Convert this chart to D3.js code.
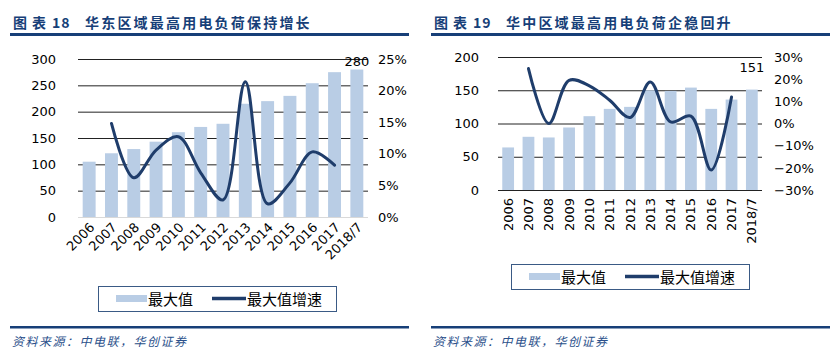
<!DOCTYPE html>
<html>
<head>
<meta charset="UTF-8">
<title>最高用电负荷</title>
<script src="https://d3js.org/d3.v7.min.js"></script>
<style>
    body { margin: 0; background: #fff; }
    svg { display: block; }
    .tick-label { font-family: "DejaVu Sans", Verdana, sans-serif; font-size: 13px; fill: #000; }
    .cjk { font-family: "Noto Sans CJK SC", sans-serif; }
</style>
</head>
<body>
<svg width="835" height="359"></svg>
<script>
// 年份
var years = ['2006', '2007', '2008', '2009', '2010', '2011', '2012', '2013', '2014', '2015', '2016', '2017', '2018/7'];

// 华东：最大值 / 最大值增速(%)
var eastMax = [105, 121, 129, 143, 161, 171, 177, 215, 220, 230, 254, 275, 280];
var eastGrowth = [null, 14.8, 6.2, 10.6, 12.7, 7.0, 2.7, 21.4, 2.1, 5.4, 10.3, 8.2, null];
var eastLeftTicks = [0, 50, 100, 150, 200, 250, 300];
var eastRightTicks = [0, 5, 10, 15, 20, 25];

// 华中：最大值 / 最大值增速(%)
var centralMax = [64, 80, 79, 94, 111, 122, 125, 150, 149, 154, 122, 136, 151];
var centralGrowth = [null, 24.8, 0.0, 19.5, 17.0, 10.5, 2.7, 18.7, 0.7, 3.3, -21.0, 12.0, null];
var centralLeftTicks = [0, 50, 100, 150, 200];
var centralRightTicks = [-30, -20, -10, 0, 10, 20, 30];

var barColor = '#b9cde5';
var lineColor = '#1f3d6b';
var navy = '#173f78';

var svg = d3.select('svg');

function drawPanel(opt) {
    var g = svg.append('g');
    var x0 = opt.x0;

    // 标题
    var title = g.append('g')
        .attr('class', 'cjk')
        .attr('font-size', 14).attr('font-weight', 'bold')
        .attr('fill', navy);
    title.append('text')
        .attr('x', x0 + 3).attr('y', 28)
        .attr('letter-spacing', 5)
        .text('图表');
    title.append('text')
        .attr('x', x0 + 42).attr('y', 28)
        .attr('letter-spacing', 1)
        .text(opt.num);
    title.append('text')
        .attr('x', x0 + 75).attr('y', 28)
        .attr('letter-spacing', 2.2)
        .text(opt.title);
    g.append('rect')
        .attr('x', x0).attr('y', 33)
        .attr('width', 399).attr('height', 3)
        .attr('fill', navy);
    // 底部
    g.append('rect')
        .attr('x', x0).attr('y', 326)
        .attr('width', 399).attr('height', 2.5)
        .attr('fill', navy);
    g.append('text')
        .attr('class', 'cjk')
        .attr('x', x0 + 2).attr('y', 346)
        .attr('font-size', 12).attr('font-style', 'italic')
        .attr('letter-spacing', 1.5)
        .attr('fill', '#2a4f8a')
        .text('资料来源：中电联，华创证券');

    var xScale = d3.scaleBand()
        .domain(years)
        .range([opt.left, opt.right])
        .paddingInner(0.42).paddingOuter(0.21);
    var yScale = d3.scaleLinear()
        .domain(d3.extent(opt.leftTicks))
        .range([opt.bottom, opt.top]);
    var y2Scale = d3.scaleLinear()
        .domain(d3.extent(opt.rightTicks))
        .range([opt.bottom, opt.top]);

    // 网格线
    g.selectAll('.grid').data(opt.leftTicks).enter().append('line')
        .attr('x1', opt.left).attr('x2', opt.right)
        .attr('y1', function(d) { return yScale(d) + 0.5; })
        .attr('y2', function(d) { return yScale(d) + 0.5; })
        .attr('stroke', function(d) { return d === 0 ? opt.baseColor : '#222'; })
        .attr('stroke-width', 1);

    // 左轴
    var yAxis = d3.axisLeft(yScale).tickValues(opt.leftTicks).tickSize(0).tickPadding(0);
    var ya = g.append('g')
        .attr('transform', 'translate(' + opt.leftLabelX + ',0)')
        .call(yAxis);
    ya.select('.domain').remove();
    ya.selectAll('text').attr('class', 'tick-label').attr('font-size', null).attr('font-family', null);

    // 右轴
    var y2Axis = d3.axisRight(y2Scale).tickValues(opt.rightTicks).tickSize(0).tickPadding(0)
        .tickFormat(function(d) { return (d < 0 ? '\u2212' : '') + Math.abs(d) + '%'; });
    var y2a = g.append('g')
        .attr('transform', 'translate(' + opt.rightLabelX + ',0)')
        .call(y2Axis);
    y2a.select('.domain').remove();
    y2a.selectAll('text').attr('class', 'tick-label').attr('font-size', null).attr('font-family', null);

    // 柱
    g.selectAll('.bar').data(opt.values).enter().append('rect')
        .attr('x', function(d, i) { return xScale(years[i]); })
        .attr('y', function(d) { return yScale(d); })
        .attr('width', xScale.bandwidth())
        .attr('height', function(d) { return yScale(0) - yScale(d); })
        .attr('fill', barColor);

    // 最后一个值标注
    var last = opt.values.length - 1;
    g.append('text')
        .attr('class', 'tick-label')
        .attr('x', xScale(years[last]) + xScale.bandwidth() / 2)
        .attr('y', yScale(opt.values[last]) - 4 + opt.labelDy)
        .attr('text-anchor', 'middle')
        .text(opt.values[last]);

    // 增速曲线
    var pts = [];
    opt.growth.forEach(function(d, i) {
        if (d !== null) pts.push([xScale(years[i]) + xScale.bandwidth() / 2, y2Scale(d)]);
    });
    g.append('path')
        .attr('d', d3.line().curve(d3.curveCatmullRom.alpha(0.5))(pts))
        .attr('fill', 'none')
        .attr('stroke', lineColor)
        .attr('stroke-width', 3)
        .attr('stroke-linecap', 'round');

    // x轴标签
    years.forEach(function(y) {
        var cx = xScale(y) + xScale.bandwidth() / 2;
        g.append('text')
            .attr('class', 'tick-label')
            .attr('text-anchor', 'end')
            .attr('transform', 'translate(' + (cx + opt.xLabelDx) + ',' + (opt.bottom + opt.xLabelDy) + ') rotate(' + opt.rotate + ')')
            .attr('dy', '0.35em')
            .text(y);
    });

    // 图例
    var lg = g.append('g').attr('transform', 'translate(' + opt.legendX + ',' + opt.legendY + ')');
    lg.append('rect')
        .attr('x', 0.5).attr('y', 0.5)
        .attr('width', 238).attr('height', 25)
        .attr('fill', '#fff').attr('stroke', '#3a5a85').attr('stroke-width', 1);
    lg.append('rect')
        .attr('x', 18).attr('y', 9).attr('width', 31).attr('height', 7)
        .attr('fill', barColor);
    lg.append('text').attr('class', 'cjk')
        .attr('x', 50).attr('y', 18.5).attr('font-size', 15).attr('fill', '#000')
        .text('最大值');
    lg.append('line')
        .attr('x1', 114).attr('x2', 148).attr('y1', 12.5).attr('y2', 12.5)
        .attr('stroke', lineColor).attr('stroke-width', 3.5);
    lg.append('text').attr('class', 'cjk')
        .attr('x', 149).attr('y', 18.5).attr('font-size', 15).attr('fill', '#000')
        .text('最大值增速');
}

drawPanel({
    x0: 10,
    num: '18',
    title: '华东区域最高用电负荷保持增长',
    values: eastMax, growth: eastGrowth,
    leftTicks: eastLeftTicks, rightTicks: eastRightTicks,
    left: 78, right: 368, top: 59, bottom: 217,
    leftLabelX: 56, rightLabelX: 378,
    baseColor: '#d9d9d9',
    labelDy: 0,
    rotate: -45, xLabelDx: 3, xLabelDy: 8,
    legendX: 98, legendY: 286
});

drawPanel({
    x0: 431,
    num: '19',
    title: '华中区域最高用电负荷企稳回升',
    values: centralMax, growth: centralGrowth,
    leftTicks: centralLeftTicks, rightTicks: centralRightTicks,
    left: 498, right: 762, top: 57, bottom: 190,
    leftLabelX: 479, rightLabelX: 774,
    baseColor: '#222',
    labelDy: -14,
    rotate: -90, xLabelDx: 0, xLabelDy: 8,
    legendX: 511, legendY: 264
});
</script>
</body>
</html>
